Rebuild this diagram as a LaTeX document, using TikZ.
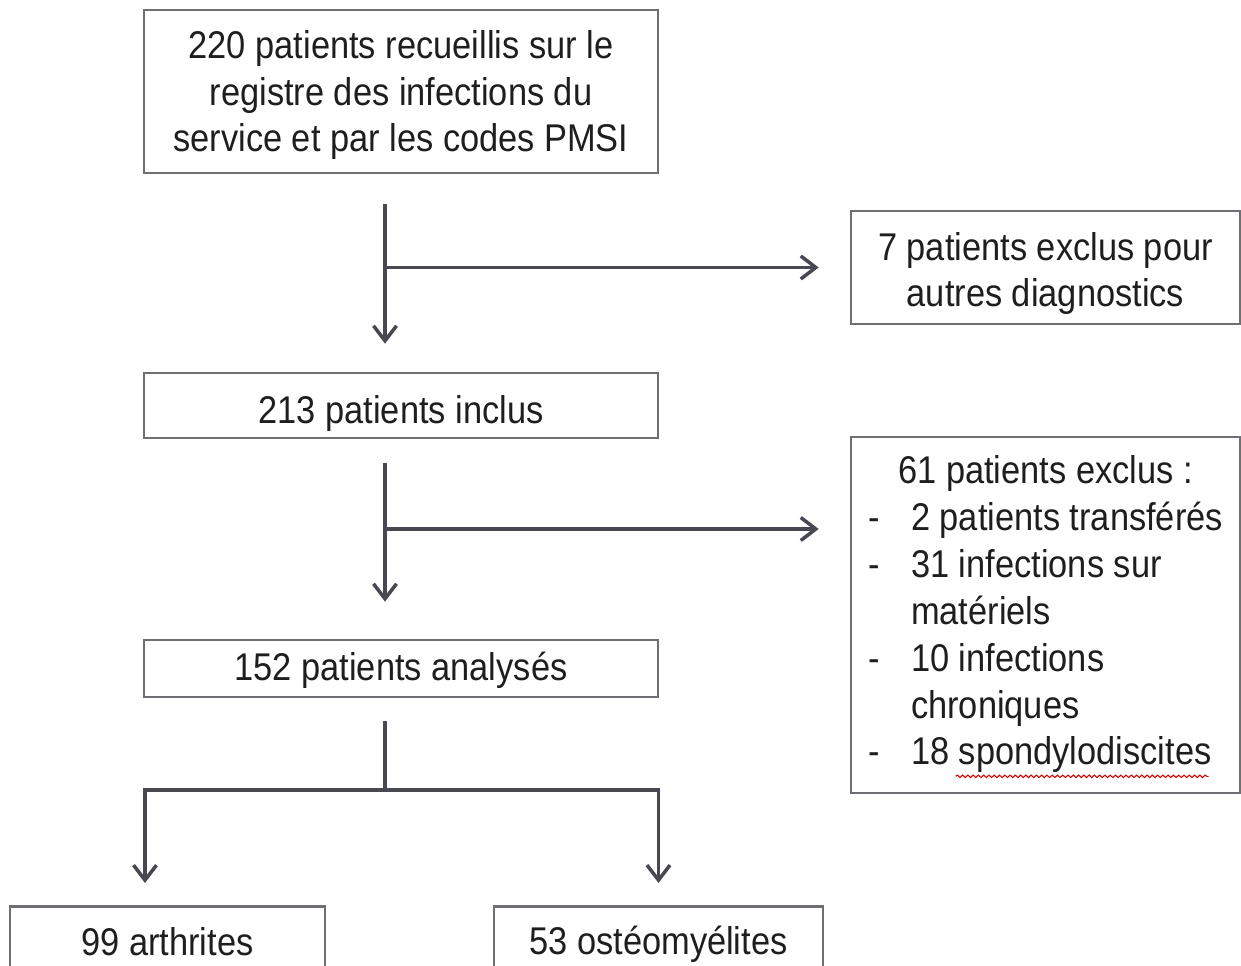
\documentclass[tikz,border=0pt]{standalone}
\usepackage{fontspec}
\setmainfont{Liberation Sans}[FakeStretch=0.89]
\usetikzlibrary{arrows.meta,positioning,decorations.pathmorphing}
\definecolor{boxgray}{RGB}{110,110,115}
\definecolor{arrowgray}{RGB}{72,72,82}
\definecolor{textgray}{RGB}{30,30,30}
\tikzstyle{box} = [draw=boxgray,line width=1.5pt,rectangle,inner sep=0,align=center,text=textgray,font=\fontsize{22pt}{26.65pt}\selectfont]
\tikzstyle{link} = [draw=arrowgray,line width=2pt]
\tikzstyle{arrow} = [link,-{Straight Barb[length=0.3cm,width=0.46cm]}]
\def \wmain {10.28cm}
\def \wside {7.78cm}
\newcommand{\lift}[1]{\rule{0pt}{#1}}

\begin{document}
\begin{tikzpicture}
      \useasboundingbox (0,0) rectangle (24.82,-19.32);
      \clip (0,0) rectangle (24.82,-19.32);
      % main column
      \node[box,minimum width=\wmain,minimum height=3.26cm] (recueil) at (8.02,-1.83) {\lift{20pt}220 patients recueillis sur le\\registre des infections du\\service et par les codes PMSI};
      \node[box,minimum width=\wmain,minimum height=1.30cm] (inclus) at (8.02,-8.11) {\lift{24.5pt}213 patients inclus};
      \node[box,minimum width=\wmain,minimum height=1.14cm] (analyses) at (8.02,-13.37) {\lift{17.7pt}152 patients analysés};
      \node[box,anchor=north,minimum width=6.30cm,minimum height=1.4cm] (arthrites) at (3.35,-18.10) {99 arthrites};
      \node[box,anchor=north,minimum width=6.58cm,minimum height=1.4cm] (osteo) at (13.17,-18.10) {\lift{19.4pt}53 ostéomyélites};
      % exclusions
      \node[box,minimum width=\wside,minimum height=2.26cm] (exclus1) at (20.91,-5.35) {\lift{22.8pt}7 patients exclus pour\\autres diagnostics};
      \node[box,minimum width=\wside,minimum height=7.12cm] (exclus2) at (20.91,-12.30) {%
        \begin{tabular}{@{}p{0.86cm}@{}l@{}}
          \multicolumn{2}{@{}c@{}}{61 patients exclus :}\\
          - & 2 patients transférés\\
          - & 31 infections sur\\
            & matériels\\
          - & 10 infections\\
            & chroniques\\
          - & 18 spondylodiscites
        \end{tabular}};
      \draw[red!85!black,line width=0.6pt,decorate,decoration={snake,amplitude=0.7pt,segment length=3pt}]
        ([xshift=2.12cm,yshift=0.36cm]exclus2.south west) -- ([xshift=7.18cm,yshift=0.36cm]exclus2.south west);
      % connectors
      \coordinate (spine) at (7.70,0);
      \coordinate (branch) at (7.70,-10.58);
      \coordinate (fork) at (7.70,-15.80);
      \coordinate (forkL) at (2.90,-15.80);
      \draw[arrow,shorten <=0.6cm,shorten >=0.56cm] (recueil.south -| spine) -- (inclus.north -| spine);
      \draw[arrow,shorten >=0.62cm] (spine |- exclus1.west) -- (exclus1.west);
      \draw[arrow,shorten <=0.48cm,shorten >=0.74cm] (inclus.south -| spine) -- (analyses.north -| spine);
      \draw[arrow,shorten >=0.62cm] (branch) -- (branch -| exclus2.west);
      \draw[link,shorten <=0.46cm] (analyses.south -| spine) -- (fork);
      \draw[arrow,shorten >=0.44cm] (fork) -| (arthrites.north -| forkL);
      \draw[arrow,shorten >=0.44cm] (fork) -| (osteo.north);
\end{tikzpicture}
\end{document}
